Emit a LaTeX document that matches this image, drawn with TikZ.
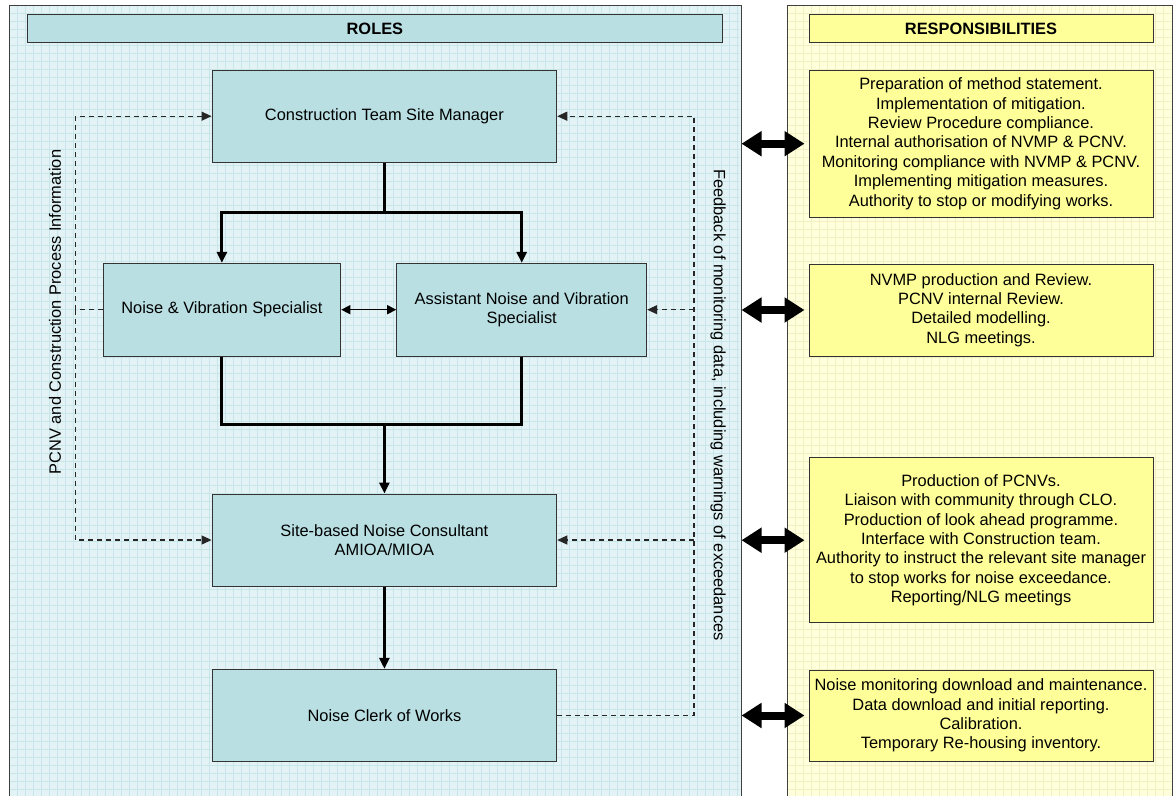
\documentclass[tikz,border=0pt]{standalone}
\usepackage{fontspec}
\setmainfont{Liberation Sans}
\usetikzlibrary{arrows.meta}
\definecolor{rolebg}{RGB}{226,242,245}
\definecolor{rolegrid}{RGB}{200,230,234}
\definecolor{respbg}{RGB}{255,255,220}
\definecolor{respgrid}{RGB}{240,240,194}
\definecolor{roleboxc}{RGB}{185,223,227}
\definecolor{respboxc}{RGB}{255,255,153}
\tikzset{
  bodyfont/.style={font=\fontsize{16.4}{19.4}\selectfont},
  panel/.style={draw=black!75, line width=0.8pt, inner sep=0pt, anchor=north west},
  rolebox/.style={draw=black!80, fill=roleboxc, line width=1pt, inner sep=0pt, align=center, bodyfont},
  respbox/.style={draw=black!80, fill=respboxc, line width=1pt, inner sep=0pt, align=center, bodyfont},
  headbox/.style={draw=black!80, line width=1pt, inner sep=0pt, font=\fontsize{16.4}{19.4}\selectfont\bfseries},
  thk/.style={line width=3pt},
  thkarrow/.style={line width=3pt, -{Triangle[length=11pt,width=10pt]}},
  dsh/.style={line width=1.2pt, dash pattern=on 5pt off 4pt, black!85},
  dsharrow/.style={dsh, -{Triangle[length=10pt,width=9pt]}},
  thinboth/.style={line width=1.3pt, {Triangle[length=9pt,width=9pt]}-{Triangle[length=9pt,width=9pt]}},
  bigboth/.style={line width=8pt, {Triangle[length=20pt,width=24pt]}-{Triangle[length=20pt,width=24pt]}, shorten >=4pt},
  sidelabel/.style={bodyfont, inner sep=0pt}
}
\begin{document}
\begin{tikzpicture}[x=1pt,y=-1pt]
\useasboundingbox (0,0) rectangle (1175,795);
\fill[white] (0,0) rectangle (1175,795);
% panels
\node[panel, fill=rolebg, minimum width=731.7pt, minimum height=810pt] (rolespanel) at (9,5) {};
\node[panel, fill=respbg, minimum width=384.7pt, minimum height=810pt] (resppanel) at (787,5) {};
\begin{scope}
\clip (9.5,5.5) rectangle (740.2,815);
\foreach \x in {17,25,...,740} \draw[rolegrid, line width=0.6pt] (\x,5) -- (\x,815);
\foreach \y in {13,21,...,800} \draw[rolegrid, line width=0.6pt] (9,\y) -- (741,\y);
\end{scope}
\begin{scope}
\clip (787.5,5.5) rectangle (1171.2,815);
\foreach \x in {795,803,...,1172} \draw[respgrid, line width=0.6pt] (\x,5) -- (\x,815);
\foreach \y in {13,21,...,800} \draw[respgrid, line width=0.6pt] (787,\y) -- (1172,\y);
\end{scope}
\draw[black!75, line width=0.8pt] (rolespanel.north west) rectangle (rolespanel.south east);
\draw[black!75, line width=0.8pt] (resppanel.north west) rectangle (resppanel.south east);
% headers
\node[headbox, fill=roleboxc, minimum width=694.3pt, minimum height=27.6pt] (roleshead) at (374.9,28.5) {ROLES};
\node[headbox, fill=respboxc, minimum width=344pt, minimum height=27.6pt] (resphead) at (981,28.5) {RESPONSIBILITIES};
% role boxes
\node[rolebox, minimum width=344.7pt, minimum height=92.3pt] (ctsm) at (384.4,116.2) {Construction Team Site Manager};
\node[rolebox, minimum width=237.7pt, minimum height=92.7pt] (nvs) at (221.9,309.7) {Noise \& Vibration Specialist};
\node[rolebox, minimum width=250pt, minimum height=92.7pt] (ansv) at (521.7,309.7) {Assistant Noise and Vibration\\Specialist};
\node[rolebox, minimum width=344.7pt, minimum height=92pt] (snc) at (384.4,540) {Site-based Noise Consultant\\AMIOA/MIOA};
\node[rolebox, minimum width=344.7pt, minimum height=92pt] (ncw) at (384.4,715.3) {Noise Clerk of Works};
% responsibility boxes
\node[respbox, minimum width=344pt, minimum height=147pt] (r1) at (981,143.7) {Preparation of method statement.\\Implementation of mitigation.\\Review Procedure compliance.\\Internal authorisation of NVMP \& PCNV.\\Monitoring compliance with NVMP \& PCNV.\\Implementing mitigation measures.\\Authority to stop or modifying works.};
\node[respbox, minimum width=344pt, minimum height=92pt] (r2) at (981,310) {NVMP production and Review.\\PCNV internal Review.\\Detailed modelling.\\NLG meetings.};
\node[respbox, minimum width=344pt, minimum height=165pt] (r3) at (981,540.2) {Production of PCNVs.\\Liaison with community through CLO.\\Production of look ahead programme.\\Interface with Construction team.\\Authority to instruct the relevant site manager\\to stop works for noise exceedance.\\Reporting/NLG meetings};
\node[respbox, minimum width=344pt, minimum height=91pt] (r4) at (981,715.5) {Noise monitoring download and maintenance.\\Data download and initial reporting.\\Calibration.\\Temporary Re-housing inventory.};
% solid connectors
\coordinate (split) at (384.4,212);
\coordinate (merge) at (384.4,424.3);
\draw[thk] (ctsm.south) -- (split);
\draw[thkarrow] (split) -| (nvs.north);
\draw[thkarrow] (split) -| (ansv.north);
\draw[thk] (nvs.south) |- (merge) -| (ansv.south);
\draw[thkarrow] (merge) -- (snc.north);
\draw[thkarrow] (snc.south) -- (ncw.north);
\draw[thinboth] (nvs.east) -- (ansv.west);
% dashed feedback lines
\coordinate (leftbus) at (75.3,309.7);
\coordinate (rightbus) at (694,116.2);
\draw[dsh] (nvs.west) -- (leftbus);
\draw[dsharrow] (leftbus) |- (ctsm.west);
\draw[dsharrow] (leftbus) |- (snc.west);
\draw[dsharrow] (ncw.east) -| (rightbus) -- (ctsm.east);
\draw[dsharrow] (ansv.east -| rightbus) -- (ansv.east);
\draw[dsharrow] (snc.east -| rightbus) -- (snc.east);
% rotated labels
\node[sidelabel, rotate=90] (leftlabel) at (55,312) {PCNV and Construction Process Information};
\node[sidelabel, rotate=-90] (rightlabel) at (718,405) {Feedback of monitoring data, including warnings of exceedances};
% big double arrows
\draw[bigboth] (r1.west -| rolespanel.east) -- (r1.west);
\draw[bigboth] (r2.west -| rolespanel.east) -- (r2.west);
\draw[bigboth] (r3.west -| rolespanel.east) -- (r3.west);
\draw[bigboth] (r4.west -| rolespanel.east) -- (r4.west);
\end{tikzpicture}
\end{document}
